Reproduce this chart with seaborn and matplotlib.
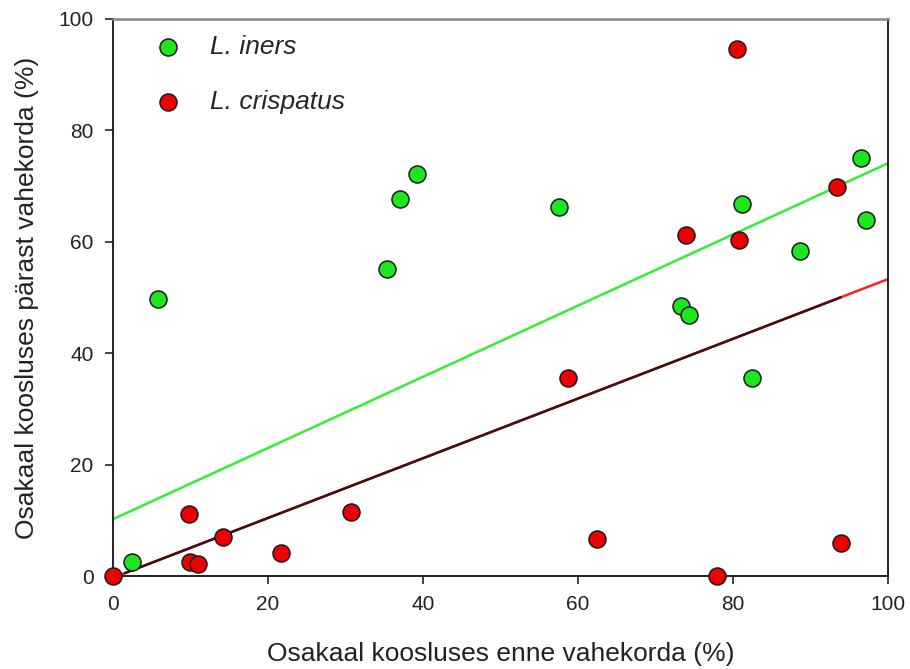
import matplotlib
matplotlib.use("Agg")
import matplotlib.pyplot as plt
import seaborn as sns
import numpy as np
import pandas as pd

# L. iners: share before (x) and after (y) the interval, %
iners_before = [2.5, 5.8, 35.4, 37.0, 39.2, 57.5, 73.3, 74.3, 81.2, 82.5, 88.6, 96.5, 97.2]
iners_after = [2.5, 49.7, 55.1, 67.7, 72.2, 66.2, 48.5, 46.9, 66.8, 35.5, 58.3, 75.0, 63.9]

# L. crispatus: share before (x) and after (y) the interval, %
crisp_before = [0.0, 9.8, 9.9, 11.0, 14.2, 21.7, 30.7, 58.7, 62.5, 73.9, 77.9, 80.5, 80.8, 93.4, 93.9]
crisp_after = [0.0, 11.1, 2.5, 2.2, 7.0, 4.1, 11.5, 35.5, 6.6, 61.2, 0.0, 94.6, 60.3, 69.8, 5.9]

# Linear fits (intercept, slope)
iners_fit = (10.2, 0.639)
crisp_fit = (-0.3, 0.536)

x_ticks = [0, 20, 40, 60, 80, 100]
y_ticks = [0, 20, 40, 60, 80, 100]

sns.set_theme(style="white")
plt.rcParams["font.family"] = ["Liberation Sans", "DejaVu Sans"]

fig = plt.figure(figsize=(9.1, 6.69), dpi=100)
ax = fig.add_axes([0.1242, 0.139, 0.8516, 0.8326])

green = "#1ee61e"
red = "#ee0000"

df_i = pd.DataFrame({"x": iners_before, "y": iners_after})
df_c = pd.DataFrame({"x": crisp_before, "y": crisp_after})

# fitted lines
xs = np.array([0.0, 100.0])
sns.lineplot(x=xs, y=iners_fit[0] + iners_fit[1] * xs, color="#33ee33", lw=1.8, ax=ax, zorder=2)
sns.lineplot(x=xs, y=crisp_fit[0] + crisp_fit[1] * xs, color="#ff2020", lw=1.8, ax=ax, zorder=2)
xd = np.array([1.5, 93.9])
sns.lineplot(x=xd, y=crisp_fit[0] + crisp_fit[1] * xd, color="#3a1212", lw=1.8, ax=ax, zorder=3)

sns.scatterplot(data=df_i, x="x", y="y", color=green, edgecolor="#1a1a1a", linewidth=1.1,
                s=150, ax=ax, zorder=4, clip_on=False, label="L. iners")
sns.scatterplot(data=df_c, x="x", y="y", color=red, edgecolor="#1a1a1a", linewidth=1.1,
                s=150, ax=ax, zorder=4, clip_on=False, label="L. crispatus")

ax.set_xlim(0, 100)
ax.set_ylim(0, 100)
ax.set_xticks(x_ticks)
ax.set_yticks(y_ticks)
ax.tick_params(axis="both", which="major", direction="out", length=6, width=1.2,
               labelsize=15, colors="#222222", bottom=True, left=True, pad=8)

ax.set_xlabel("Osakaal koosluses enne vahekorda (%)", fontsize=19, color="#222222", labelpad=20)
ax.set_ylabel("Osakaal koosluses pärast vahekorda (%)", fontsize=19, color="#222222", labelpad=14)

for side in ["left", "bottom", "right"]:
    ax.spines[side].set_color("#111111")
    ax.spines[side].set_linewidth(1.3)
ax.spines["top"].set_color("#888888")
ax.spines["top"].set_linewidth(1.8)

leg = ax.legend(loc="upper left", frameon=False, prop={"style": "italic", "size": 19},
                bbox_to_anchor=(0.013, 1.005), labelspacing=1.18, handletextpad=0.58,
                borderaxespad=0.3)

fig.savefig("out.png", dpi=100)
